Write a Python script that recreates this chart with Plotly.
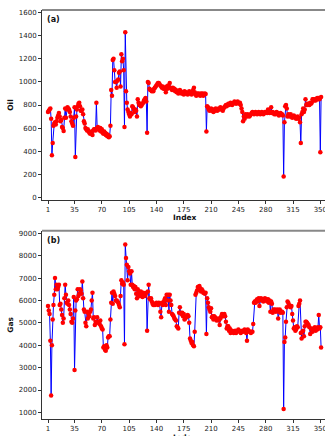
import plotly.graph_objects as go

oil = [
    740, 750, 760, 770, 680, 365, 470, 620, 640, 650,
    630, 660, 690, 710, 730, 700, 660, 670, 610, 600,
    575, 690, 770, 690, 760, 780, 770, 760, 740, 700,
    660, 640, 620, 690, 780, 350, 700, 760, 790, 810,
    820, 790, 750, 750, 760, 720, 660, 640, 600, 590,
    580, 590, 570, 560, 550, 560, 570, 540, 580, 590,
    590, 580, 820, 600, 610, 590, 580, 600, 570, 590,
    560, 550, 570, 560, 540, 550, 530, 540, 520, 530,
    620, 930, 880, 1190, 1200, 1100, 1000, 1000, 950, 1010,
    1020, 1080, 1090, 960, 1240, 1180, 1200, 1100, 610, 1430,
    920, 820, 760, 740, 720, 700, 730, 720, 790, 780,
    760, 740, 760, 750, 700, 850, 820, 800, 810, 790,
    800, 810, 820, 840, 850, 860, 830, 560, 1000, 990,
    940, 930, 930, 920, 930, 920, 940, 950, 960, 970,
    980, 990, 990, 980, 970, 960, 950, 960, 940, 950,
    940, 910, 960, 940, 970, 950, 990, 950, 940, 930,
    950, 930, 940, 920, 930, 910, 920, 900, 910, 930,
    920, 900, 910, 900, 890, 920, 900, 910, 900, 890,
    900, 920, 900, 910, 890, 900, 930, 950, 910, 890,
    880, 900, 890, 900, 890, 880, 900, 890, 900, 880,
    890, 900, 895, 570, 790, 780, 760, 750, 760, 770,
    750, 760, 740, 760, 750, 770, 760, 750, 760, 770,
    760, 780, 770, 760, 750, 770, 780, 790, 800, 790,
    800, 810, 800, 810, 820, 810, 800, 810, 820, 830,
    820, 810, 820, 830, 820, 810, 820, 800, 770, 740,
    660, 700, 680, 720, 710, 700, 720, 710, 700, 710,
    720, 730, 740, 730, 720, 730, 740, 730, 720, 730,
    740, 730, 720, 730, 740, 730, 720, 730, 740, 730,
    740, 730, 760, 740, 730, 740, 780, 730, 740, 730,
    720, 730, 720, 740, 730, 720, 710, 720, 730, 720,
    720, 710, 180, 650, 790, 800, 770, 700, 720, 710,
    700, 720, 700, 690, 700, 710, 700, 690, 680, 690,
    700, 680, 690, 650, 470, 720, 740, 770, 740, 760,
    850, 800, 810, 800, 810, 800, 820, 810, 820, 850,
    850, 840, 850, 840, 850, 860, 850, 860, 850, 390, 870,
]

gas = [
    5750, 5550, 5400, 4200, 1750, 4000, 5150, 5800, 6250, 7000,
    6500, 6700, 6500, 6600, 6700, 5800, 5850, 5600, 5350, 5000,
    5200, 6100, 6700, 6250, 5900, 5850, 6000, 5800, 5600, 5400,
    5050, 5000, 5200, 6150, 2900, 5550, 6000, 6050, 6500, 6200,
    6300, 6500, 6450, 6300, 6850, 6100, 5600, 5500, 5000, 4850,
    5500, 5200, 5400, 5300, 5500, 5600, 6000, 6350, 5200, 5250,
    4900, 5050, 5000, 5250, 5050, 5000, 4950, 5100, 4850, 4750,
    4700, 3900, 3950, 3800, 3750, 4000, 3900, 4350, 4400, 4400,
    5150, 5900, 6350, 5850, 6400, 6300, 6200, 6000, 6000, 5950,
    5900, 5800, 5700, 6200, 6900, 6750, 6800, 6700, 4050, 8500,
    7900, 7600, 6900, 7500, 7300, 7200, 6700, 7300, 6700, 6600,
    6650, 6500, 6600, 6300, 6100, 6500, 6400, 6200, 6300, 6400,
    6200, 6150, 6350, 6300, 6200, 6250, 6350, 4650, 6400, 6700,
    6100, 6050, 6100, 5950, 5850, 5800, 5850, 5800, 5850, 5900,
    5850, 5800, 5900, 5850, 5500, 5250, 5900, 5800, 5900, 6000,
    6100, 5800, 6250, 6000, 6250, 5500, 6250, 6000, 5800, 5400,
    5350, 5300, 5200, 5150, 5100, 4850, 4800, 4750, 5450, 5700,
    5450, 5400, 5450, 5300, 5400, 5150, 5200, 5250, 5300, 5350,
    5300, 5000, 4300, 4200, 4100, 4150, 4000, 3950, 4600, 6250,
    6350, 6450, 6600, 6500, 6650, 6550, 6400, 6500, 6450, 6350,
    6350, 6300, 6350, 4500, 6100, 5900, 5700, 5600, 5500, 5650,
    5250, 5300, 5150, 5300, 5250, 5200, 5100, 5150, 5200, 5100,
    4900, 5200, 5300, 5400, 5350, 5300, 5400, 5300, 5050, 4750,
    4850, 4850, 4650, 4750, 4550, 4600, 4650, 4600, 4550, 4600,
    4650, 4550, 4600, 4650, 4700, 4650, 4600, 4550, 4600, 4650,
    4600, 4650, 4700, 4650, 4550, 4200, 4700, 4650, 4600, 4600,
    4550, 4600, 4600, 4950, 5900, 5950, 5900, 6000, 6050, 5950,
    6100, 5750, 6050, 6100, 6000, 6050, 5950, 6050, 6100, 6000,
    6050, 5950, 6050, 5900, 6000, 5500, 5950, 5850, 5450, 5600,
    5550, 5600, 5500, 5550, 5600, 5200, 5500, 5600, 5450, 5500,
    5500, 5450, 1150, 4150, 4350, 5050, 5700, 5950, 5900, 5800,
    5750, 5700, 5750, 5400, 5100, 4750, 4800, 4650, 4700, 4850,
    4800, 5750, 5850, 6000, 4550, 4300, 4600, 4650, 4400, 4850,
    5050, 5050, 5000, 4950, 4900, 4800, 4500, 4750, 4700, 4600,
    4750, 4700, 4800, 4650, 4750, 4700, 4800, 5350, 4750, 4800, 3900,
]

index = list(range(1, len(oil) + 1))
x_ticks = [1, 35, 70, 105, 140, 175, 210, 245, 280, 315, 350]
oil_ticks = [0, 200, 400, 600, 800, 1000, 1200, 1400, 1600]
gas_ticks = [1000, 2000, 3000, 4000, 5000, 6000, 7000, 8000, 9000]

W, H = 325, 436
ML, MR, MT, MB = 42, 0, 10, 17
ph = H - MT - MB

def fy(p):
    return (H - MB - p) / ph

dom_top = [fy(200), 1.0]
dom_bot = [0.0, fy(230.7)]

fig = go.Figure()
common_line = dict(color="#0000ff", width=1)
common_marker = dict(color="#ff0000", size=4.5)
fig.add_trace(go.Scatter(x=index, y=oil, mode="lines+markers", line=common_line,
                         marker=common_marker, xaxis="x", yaxis="y", showlegend=False))
fig.add_trace(go.Scatter(x=index, y=gas, mode="lines+markers", line=common_line,
                         marker=common_marker, xaxis="x2", yaxis="y2", showlegend=False))

FAM = "DejaVu Sans, Verdana, sans-serif"
font = dict(family=FAM, size=7, color="#222")
tfont = dict(family=FAM, size=7.5, color="#111")
ax_common = dict(showgrid=False, zeroline=False, showline=True, linecolor="#333",
                 linewidth=1, ticks="outside", ticklen=3, tickcolor="#333",
                 tickfont=font, automargin=False, ticklabeloverflow="allow")

fig.update_layout(
    width=W, height=H,
    margin=dict(l=ML, r=MR, t=MT, b=MB),
    paper_bgcolor="white", plot_bgcolor="white",
    xaxis=dict(domain=[0, 1], anchor="y", range=[-6.7, 356], tickvals=x_ticks, **ax_common),
    yaxis=dict(domain=dom_top, anchor="x", range=[-23, 1623], tickvals=oil_ticks,
               title=dict(text="<b>Oil</b>", font=tfont, standoff=4), **ax_common),
    xaxis2=dict(domain=[0, 1], anchor="y2", range=[-6.7, 356], tickvals=x_ticks, **ax_common),
    yaxis2=dict(domain=dom_bot, anchor="x2", range=[706, 9116], tickvals=gas_ticks,
                title=dict(text="<b>Gas</b>", font=tfont, standoff=4), **ax_common),
)

for yd in (dom_top[1], dom_bot[1]):
    fig.add_shape(type="line", xref="paper", yref="paper", x0=0, x1=1, y0=yd, y1=yd,
                  line=dict(color="#888", width=2))

for py in (217.5, 437.5):
    fig.add_annotation(text="<b>Index</b>", xref="paper", yref="paper",
                       x=(185 - ML) / (W - ML), y=fy(py), xanchor="center", yanchor="middle",
                       showarrow=False, font=tfont)

fig.add_annotation(text="<b>(a)</b>", xref="paper", yref="paper", x=0.012, y=dom_top[1] - 0.008,
                   xanchor="left", yanchor="top", showarrow=False,
                   font=dict(family=FAM, size=8, color="#111"))
fig.add_annotation(text="<b>(b)</b>", xref="paper", yref="paper", x=0.012, y=dom_bot[1] - 0.008,
                   xanchor="left", yanchor="top", showarrow=False,
                   font=dict(family=FAM, size=8, color="#111"))

fig.write_html(
    "out.html",
    config={"displayModeBar": False},
    post_script="document.body.style.margin='0';document.body.style.overflow='hidden';",
)
